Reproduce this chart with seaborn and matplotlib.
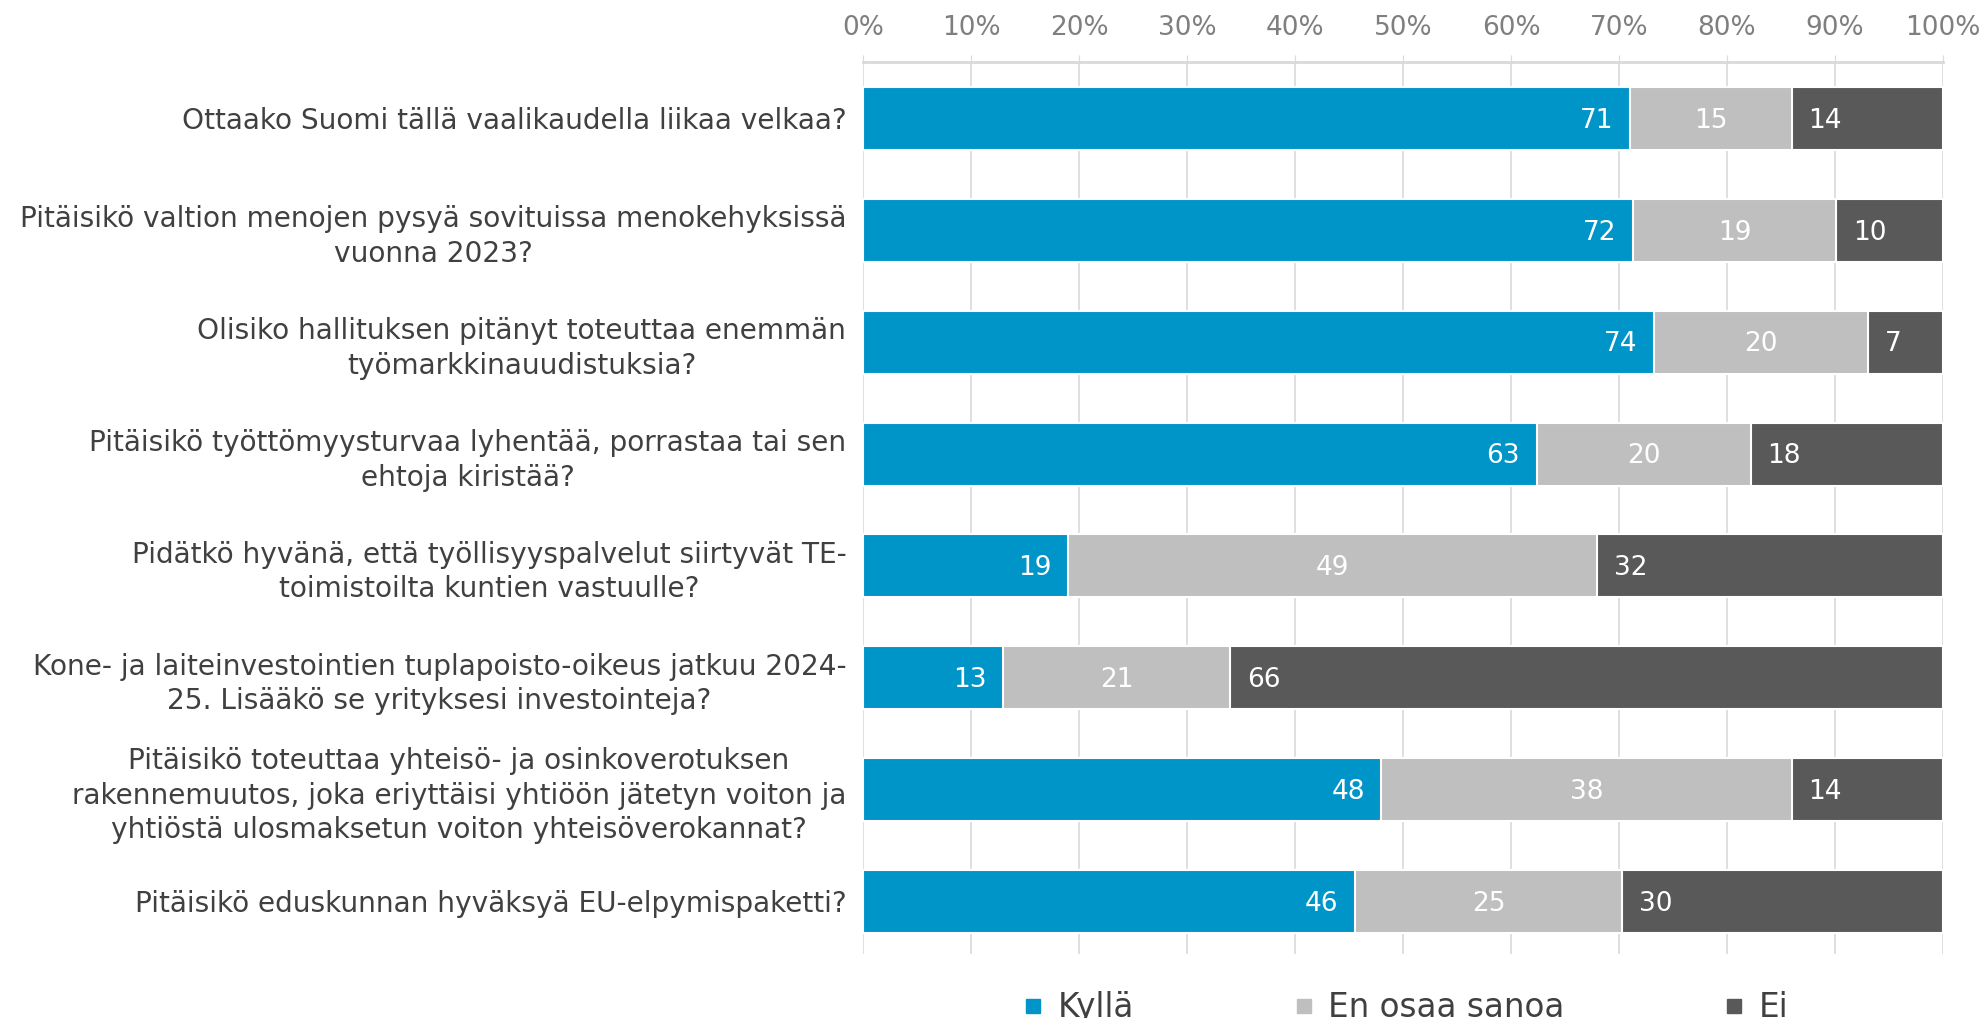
import numpy as np
import pandas as pd
import matplotlib
matplotlib.use("Agg")
import matplotlib.pyplot as plt
import seaborn as sns
from matplotlib.lines import Line2D

# Kysymykset
kysymykset = [
    "Ottaako Suomi tällä vaalikaudella liikaa velkaa?",
    "Pitäisikö valtion menojen pysyä sovituissa menokehyksissä\nvuonna 2023?",
    "Olisiko hallituksen pitänyt toteuttaa enemmän\ntyömarkkinauudistuksia?",
    "Pitäisikö työttömyysturvaa lyhentää, porrastaa tai sen\nehtoja kiristää?",
    "Pidätkö hyvänä, että työllisyyspalvelut siirtyvät TE-\ntoimistoilta kuntien vastuulle?",
    "Kone- ja laiteinvestointien tuplapoisto-oikeus jatkuu 2024-\n25. Lisääkö se yrityksesi investointeja?",
    "Pitäisikö toteuttaa yhteisö- ja osinkoverotuksen\nrakennemuutos, joka eriyttäisi yhtiöön jätetyn voiton ja\nyhtiöstä ulosmaksetun voiton yhteisöverokannat?",
    "Pitäisikö eduskunnan hyväksyä EU-elpymispaketti?",
]
kylla = [71, 72, 74, 63, 19, 13, 48, 46]
en_osaa = [15, 19, 20, 20, 49, 21, 38, 25]
ei = [14, 10, 7, 18, 32, 66, 14, 30]

sarjat = ["Kyllä", "En osaa sanoa", "Ei"]
varit = ["#0095C8", "#BFBFBF", "#595959"]

df = pd.DataFrame({"kysymys": kysymykset, "kylla": kylla,
                   "eos": en_osaa, "ei": ei})
summa = df["kylla"] + df["eos"] + df["ei"]
df["k1"] = df["kylla"] / summa * 100
df["k2"] = (df["kylla"] + df["eos"]) / summa * 100
df["k3"] = 100.0

fig = plt.figure(figsize=(19.87, 10.18), dpi=100)
ax = fig.add_axes([0.4343, 0.0629, 0.5436, 0.8762])

leveys = 0.563
sarakkeet = ["k3", "k2", "k1"]
for sar, vari in zip(sarakkeet, varit[::-1]):
    sns.barplot(data=df, x=sar, y="kysymys", orient="h", color=vari,
                width=leveys, edgecolor="white", linewidth=1.5,
                errorbar=None, saturation=1, ax=ax)

c_ei, c_eos, c_k = ax.containers[0], ax.containers[1], ax.containers[2]

siirto = 12  # pt
for i in range(len(kysymykset)):
    pk, pe, pt = c_k[i], c_eos[i], c_ei[i]
    yc = pk.get_y() + pk.get_height() / 2 + 0.02
    ax.annotate(str(kylla[i]), (pk.get_width(), yc), xytext=(-siirto, 0),
                textcoords="offset points", ha="right", va="center",
                color="white", fontsize=19)
    ax.annotate(str(en_osaa[i]), ((pk.get_width() + pe.get_width()) / 2, yc),
                ha="center", va="center", color="white", fontsize=19)
    ax.annotate(str(ei[i]), (pe.get_width(), yc), xytext=(siirto, 0),
                textcoords="offset points", ha="left", va="center",
                color="white", fontsize=19)

ax.set_xlim(0, 100)
ax.set_ylim(7.47, -0.505)
ax.xaxis.tick_top()
ax.set_xticks(np.arange(0, 101, 10))
ax.set_xticklabels([f"{v}%" for v in range(0, 101, 10)])
ax.tick_params(axis="x", length=5, color="#D9D9D9", pad=10,
               labelsize=19, labelcolor="#7F7F7F")
ax.set_yticks(range(len(kysymykset)))
ax.set_yticklabels(kysymykset, ma="center", linespacing=1.3)
ax.tick_params(axis="y", length=0, pad=12, labelsize=20.2,
               labelcolor="#404040")
ax.set_xlabel("")
ax.set_ylabel("")
ax.grid(axis="x", color="#D9D9D9", linewidth=1.2)
ax.set_axisbelow(True)
for s in ["bottom", "left", "right"]:
    ax.spines[s].set_visible(False)
ax.spines["top"].set_color("#D9D9D9")
ax.spines["top"].set_linewidth(2)

kahvat = [Line2D([], [], marker="s", linestyle="none", color=v, markersize=10)
          for v in varit]
fig.legend(kahvat, sarjat, loc="center", bbox_to_anchor=(0.708, 0.01),
           ncol=3, frameon=False, fontsize=23.5, handletextpad=0.5,
           columnspacing=4.95, handlelength=0.5, labelcolor="#404040")

fig.savefig("out.png", dpi=100)
